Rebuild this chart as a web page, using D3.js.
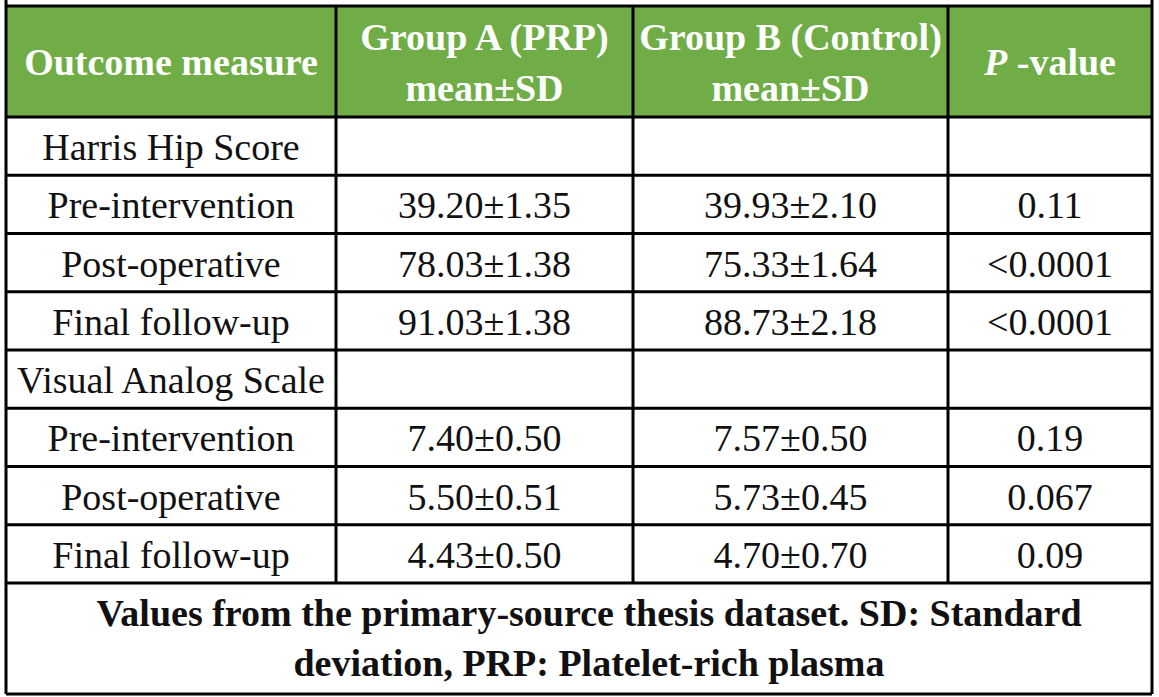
<!DOCTYPE html>
<html>
<head>
<meta charset="utf-8">
<script src="https://cdn.jsdelivr.net/npm/d3@7"></script>
<style>
  html, body { margin: 0; padding: 0; background: #fff; }
  svg { display: block; }
</style>
</head>
<body>
<div id="chart"></div>
<script>

//// DATA

// Row labels (section headers have no values)
var rowLabels = ["Harris Hip Score", "Pre-intervention", "Post-operative", "Final follow-up",
                 "Visual Analog Scale", "Pre-intervention", "Post-operative", "Final follow-up"];
// Group A (PRP) mean±SD
var groupA = ["", "39.20±1.35", "78.03±1.38", "91.03±1.38", "", "7.40±0.50", "5.50±0.51", "4.43±0.50"];
// Group B (Control) mean±SD
var groupB = ["", "39.93±2.10", "75.33±1.64", "88.73±2.18", "", "7.57±0.50", "5.73±0.45", "4.70±0.70"];
// P-values
var pValues = ["", "0.11", "<0.0001", "<0.0001", "", "0.19", "0.067", "0.09"];
// Header lines for each column
var headerLines = [["Outcome measure"], ["Group A (PRP)", "mean±SD"], ["Group B (Control)", "mean±SD"], ["P-value"]];
// Footer note lines
var footerLines = ["Values from the primary-source thesis dataset. SD: Standard",
                   "deviation, PRP: Platelet-rich plasma"];


//// LAYOUT

var W = 1159, H = 697;
var colEdges = [6, 336, 633, 948, 1152];
var headTop = 6, headBottom = 117, bodyBottom = 583, footBottom = 694;
var green = "#70ad47";
var fontSize = 38;
var font = "'Liberation Serif', 'Times New Roman', serif";

var svg = d3.select("#chart").append("svg")
    .attr("width", W)
    .attr("height", H)
    .style("font-family", font);

// Row scale for body rows
var y = d3.scaleBand()
    .domain(d3.range(rowLabels.length))
    .range([headBottom, bodyBottom]);

// Column centres
var colCenter = function(i) { return (colEdges[i] + colEdges[i + 1]) / 2; };

// Header background
svg.append("rect")
    .attr("x", colEdges[0]).attr("y", headTop)
    .attr("width", colEdges[4] - colEdges[0]).attr("height", headBottom - headTop)
    .attr("fill", green);

// Header text
headerLines.forEach(function(lines, ci) {
    var mid = (headTop + headBottom) / 2;
    var lh = 51;
    lines.forEach(function(line, li) {
        var base = mid + 13.5 + (li - (lines.length - 1) / 2) * lh;
        var t = svg.append("text")
            .attr("x", colCenter(ci))
            .attr("y", base)
            .attr("text-anchor", "middle")
            .attr("fill", "#fff")
            .attr("font-weight", "bold")
            .attr("font-size", fontSize);
        if (line === "P-value") {
            t.append("tspan").attr("font-style", "italic").text("P");
            t.append("tspan").text(" -value");
        } else {
            t.text(line);
        }
    });
});

// Body cells
var columns = [rowLabels, groupA, groupB, pValues];
columns.forEach(function(col, ci) {
    svg.append("g").selectAll("text")
        .data(col)
        .enter()
        .append("text")
        .attr("x", colCenter(ci))
        .attr("y", function(d, i) { return y(i) + y.bandwidth() / 2 + 14; })
        .attr("text-anchor", "middle")
        .attr("fill", "#111")
        .attr("font-size", fontSize)
        .text(function(d) { return d; });
});

// Footer text (sits a little right of the table centre in the original)
footerLines.forEach(function(line, li) {
    svg.append("text")
        .attr("x", 589)
        .attr("y", 626 + li * 50)
        .attr("text-anchor", "middle")
        .attr("fill", "#111")
        .attr("font-weight", "bold")
        .attr("font-size", fontSize)
        .text(line);
});

// Grid lines
var lines = svg.append("g")
    .attr("stroke", "#000")
    .attr("stroke-width", 3);

// Horizontal lines: top, header bottom, each row, footer bottom
var hLines = [headTop, headBottom].concat(d3.range(1, rowLabels.length).map(function(i) { return y(i); }))
    .concat([bodyBottom, footBottom]);
lines.selectAll("line.h")
    .data(hLines)
    .enter()
    .append("line")
    .attr("class", "h")
    .attr("x1", colEdges[0]).attr("x2", colEdges[4])
    .attr("y1", function(d) { return d; }).attr("y2", function(d) { return d; });

// Outer vertical borders run from the top of the image
lines.selectAll("line.vo")
    .data([colEdges[0], colEdges[4]])
    .enter()
    .append("line")
    .attr("class", "vo")
    .attr("x1", function(d) { return d; }).attr("x2", function(d) { return d; })
    .attr("y1", 0).attr("y2", footBottom);

// Inner vertical borders stop at the footer
lines.selectAll("line.vi")
    .data(colEdges.slice(1, 4))
    .enter()
    .append("line")
    .attr("class", "vi")
    .attr("x1", function(d) { return d; }).attr("x2", function(d) { return d; })
    .attr("y1", headTop).attr("y2", bodyBottom);

</script>
</body>
</html>
